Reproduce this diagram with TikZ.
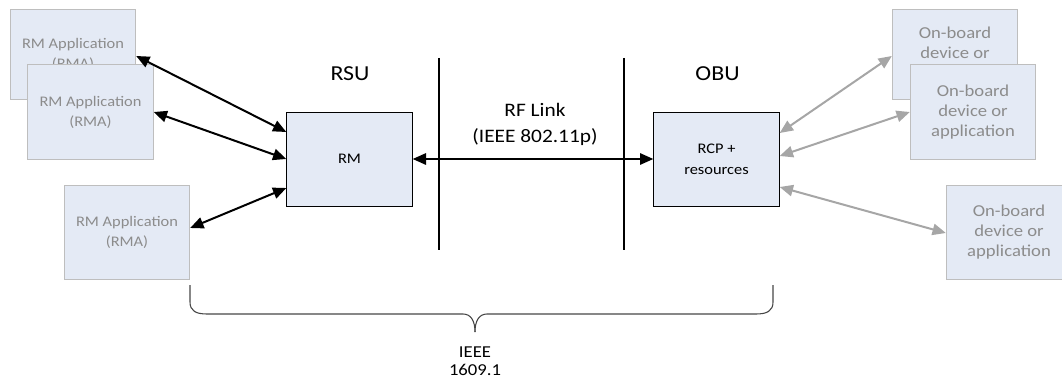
\documentclass[tikz,border=0pt]{standalone}
\usepackage{fontspec}
\setmainfont[FakeStretch=1.12]{Carlito}
\usetikzlibrary{arrows.meta}
\definecolor{boxfill}{RGB}{228,234,245}
\definecolor{appedge}{RGB}{190,190,190}
\definecolor{apptext}{RGB}{140,140,140}
\definecolor{linkgray}{RGB}{166,166,166}
\definecolor{bracecol}{RGB}{70,70,70}
\begin{document}
\begin{tikzpicture}[x=0.75pt,y=-0.75pt,
  box/.style={draw=black, line width=0.75pt, fill=boxfill,
    minimum width=94pt, minimum height=70.5pt, inner sep=0pt,
    align=center, font=\fontsize{11}{15.5}\selectfont},
  appbox/.style={box, draw=appedge, text=apptext,
    font=\fontsize{11}{15}\selectfont},
  devbox/.style={appbox, font=\fontsize{12.5}{15}\selectfont},
  title/.style={font=\fontsize{16}{19}\selectfont},
  blink/.style={{Triangle[length=10pt,width=8.5pt]}-{Triangle[length=10pt,width=8.5pt]},
    line width=1.5pt},
  glink/.style={blink, draw=linkgray},
  divider/.style={line width=1.5pt},
  brace/.style={draw=bracecol, line width=0.8pt}
]
\useasboundingbox (0,0) rectangle (1062,378);
\clip (0,0) rectangle (1062,378);

% roadside side: applications and resource manager
\node[appbox, minimum height=66.75pt] (rma1) at (73,54.5) {RM Application\\(RMA)};
\node[appbox] (rma2) at (90.5,112) {RM Application\\(RMA)};
\node[appbox] (rma3) at (127,232) {RM Application\\(RMA)};
\node[box] (rm) at (349.5,159) {RM};

% on-board side: control point and devices
\node[box] (rcp) at (716.5,159) {RCP +\\resources};
\node[devbox, minimum height=66.75pt] (obd1) at (955,54.5) {On-board\\device or\\application};
\node[devbox] (obd2) at (973,112) {On-board\\device or\\application};
\node[devbox] (obd3) at (1009,232) {On-board\\device or\\application};

% titles
\node[title] (rsu) at (350,74) {RSU};
\node[title] (obu) at (717.5,74) {OBU};
\node[align=center, font=\fontsize{14.3}{19.5}\selectfont] (rf) at (535,124)
  {RF Link\\(IEEE 802.11p)};
\node[align=center, font=\fontsize{12.5}{13.5}\selectfont] (std) at (475,361)
  {IEEE\\1609.1};

% air interface boundaries
\coordinate (d1t) at (439,58);  \coordinate (d1b) at (439,250);
\coordinate (d2t) at (624,58);  \coordinate (d2b) at (624,250);
\draw[divider] (d1t) -- (d1b);
\draw[divider] (d2t) -- (d2b);

% links
\draw[blink] ([shift={(0,1.5)}]rma1.east) -- ([shift={(0,-27)}]rm.west);
\draw[blink] (rma2.east) -- (rm.west);
\draw[blink] ([shift={(0,-4)}]rma3.east) -- ([shift={(0,29)}]rm.west);
\draw[blink] (rm.east) -- (rcp.west);
\draw[glink] ([shift={(0,-26)}]rcp.east) -- ([shift={(0,1.5)}]obd1.west);
\draw[glink] ([shift={(0,-3)}]rcp.east) -- (obd2.west);
\draw[glink] ([shift={(0,28)}]rcp.east) -- ([shift={(0,1)}]obd3.west);

% brace spanning the standard's scope
\coordinate (bl) at (190,285);
\coordinate (br) at (773,285);
\coordinate (btip) at (475,332);
\draw[brace] (bl) -- (190,302) .. controls (190,311) and (196,314) .. (207,314)
  -- (463,314) .. controls (471,314) and (475,321) .. (btip);
\draw[brace] (br) -- (773,302) .. controls (773,311) and (767,314) .. (756,314)
  -- (487,314) .. controls (479,314) and (475,321) .. (btip);
\end{tikzpicture}
\end{document}
